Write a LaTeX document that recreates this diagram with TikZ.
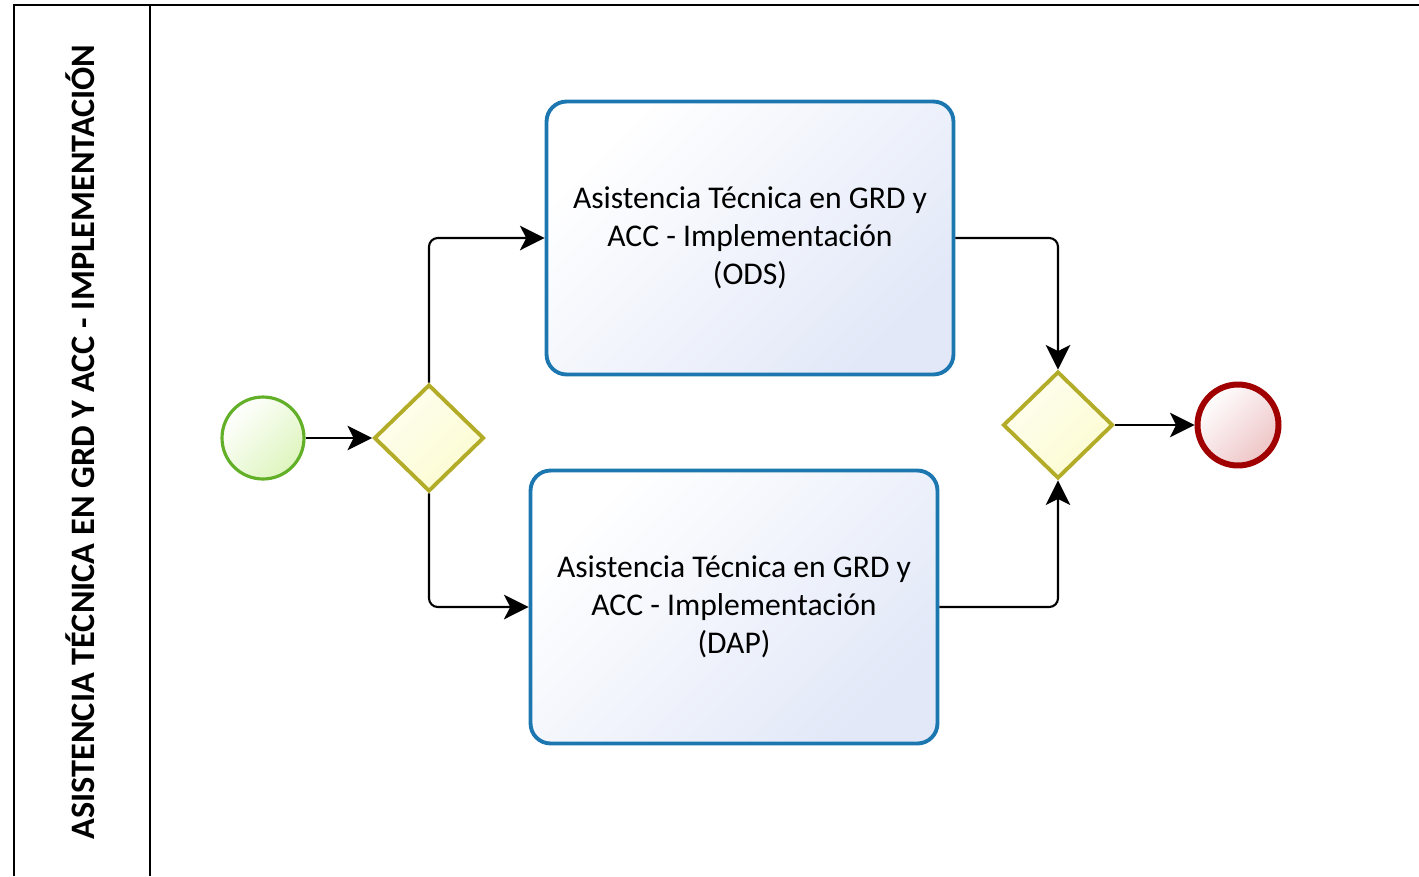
\documentclass[tikz,border=0pt]{standalone}
\usepackage{fontspec}
\setmainfont{Carlito}
\usetikzlibrary{arrows.meta}
\usetikzlibrary{shapes.geometric}

\definecolor{startline}{RGB}{98,176,40}
\definecolor{startfill}{RGB}{222,245,190}
\definecolor{endline}{RGB}{160,0,0}
\definecolor{endfill}{RGB}{238,196,198}
\definecolor{gateline}{RGB}{178,172,40}
\definecolor{gatefill}{RGB}{252,252,210}
\definecolor{taskline}{RGB}{28,118,176}
\definecolor{taskfill}{RGB}{226,232,248}

\begin{document}
\begin{tikzpicture}[x=0.02cm, y=-0.02cm,
    flow/.style={-{Stealth[length=14pt,width=14pt,inset=3.5pt]}, line width=1.2pt, rounded corners=5pt},
    task/.style={rectangle, rounded corners=0.4cm, draw=taskline, line width=2.2pt,
      top color=white, bottom color=taskfill, shading angle=45,
      minimum width=8.14cm, minimum height=5.46cm, align=center,
      font=\fontsize{18}{21.5}\selectfont},
    gateway/.style={diamond, draw=gateline, line width=2.2pt, inner sep=0pt, aspect=1,
      top color=gatefill!35, bottom color=gatefill, shading angle=45,
      minimum width=2.2cm, minimum height=2.14cm},
    startev/.style={circle, draw=startline, line width=1.8pt, inner sep=0pt,
      top color=white, bottom color=startfill, shading angle=45, minimum size=1.64cm},
    endev/.style={circle, draw=endline, line width=3.4pt, inner sep=0pt,
      top color=white, bottom color=endfill, shading angle=45, minimum size=1.62cm}]
    \useasboundingbox (0,0) rectangle (1419,876);
    % pool and lane
    \draw [line width=1.4pt] (14,876) -- (14,5) -- (1425,5);
    \draw [line width=1.4pt] (150,5) -- (150,876);
    \node (lanename) [rotate=90, font=\fontsize{19.5}{22}\selectfont\bfseries] at (80,442)
      {ASISTENCIA TÉCNICA EN GRD Y ACC - IMPLEMENTACIÓN};
    % events and gateways
    \node (start) [startev] at (263,438) {};
    \node (split) [gateway] at (429,438) {};
    \node (join) [gateway] at (1058,425) {};
    \node (stop) [endev] at (1238,425) {};
    % tasks
    \node (odstask) [task] at (750,238) {Asistencia Técnica en GRD y\\ACC - Implementación\\(ODS)};
    \node (daptask) [task] at (734,607) {Asistencia Técnica en GRD y\\ACC - Implementación\\(DAP)};
    % sequence flows
    \draw [flow] (start) -- (split);
    \draw [flow] (split.north) |- (odstask.west);
    \draw [flow] (split.south) |- (daptask.west);
    \draw [flow] (odstask.east) -| (join.north);
    \draw [flow] (daptask.east) -| (join.south);
    \draw [flow] (join) -- (stop);
\end{tikzpicture}
\end{document}
